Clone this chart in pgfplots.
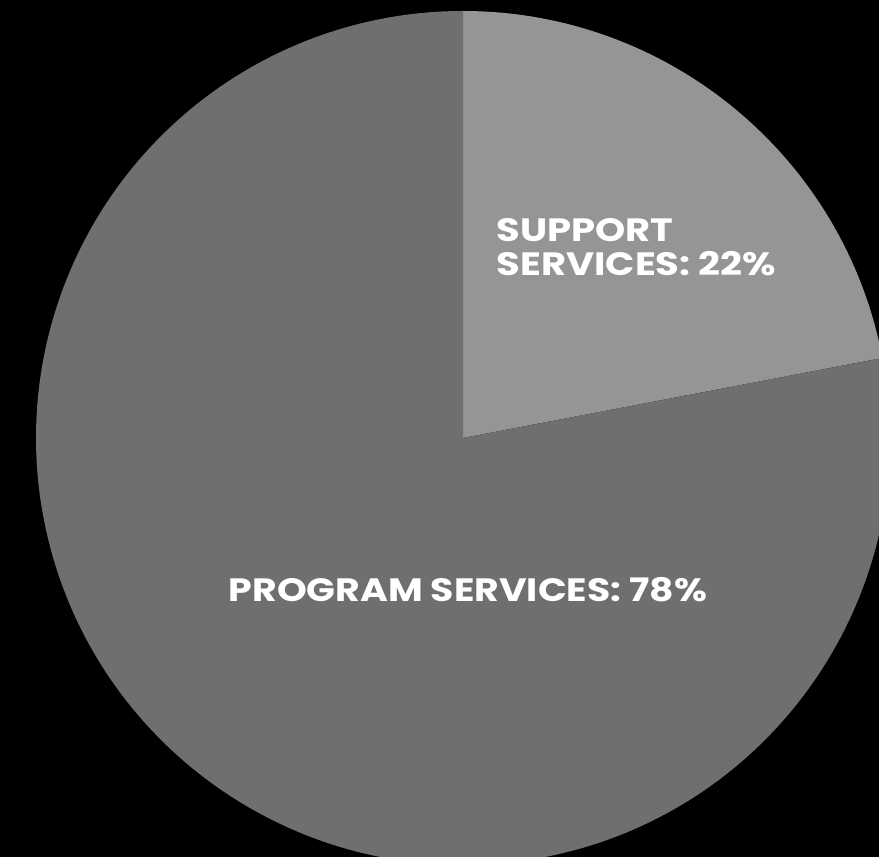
\documentclass[border=0pt]{standalone}
\usepackage{pgfplots}
\usepackage{pgfplotstable}
\pgfplotsset{compat=1.18}
\usepackage{fontspec}
\setmainfont{Poppins}
\definecolor{supp}{HTML}{959595}
\definecolor{prog}{HTML}{6F6F6F}
\pgfplotstableread{
label value
Support 22
Program 78
}\piedata
\begin{document}
\begin{tikzpicture}
\pgfplotstablegetelem{0}{value}\of\piedata \let\vS\pgfplotsretval
\pgfmathsetmacro\aS{90-3.6*\vS}
\begin{axis}[scale only axis, width=8.79cm, height=8.57cm,
  xmin=0, xmax=879, ymin=0, ymax=857, hide axis, clip=true]
\fill[black] (axis cs:0,0) rectangle (axis cs:879,857);
\fill[supp] (axis cs:463,419) -- ++(90:4.27cm) arc[start angle=90, end angle=\aS, radius=4.27cm] -- cycle;
\fill[prog] (axis cs:463,419) -- ++(\aS:4.27cm) arc[start angle=\aS, end angle=-270, radius=4.27cm] -- cycle;
\node[anchor=north west, inner sep=0pt, align=left, text=white, xscale=1.19,
  font=\fontsize{9.2}{9.6}\selectfont\bfseries]
  at (axis cs:496,639) {SUPPORT\\SERVICES: 22\%};
\node[anchor=north, inner sep=0pt, text=white, xscale=1.17,
  font=\fontsize{9.2}{9.6}\selectfont\bfseries]
  at (axis cs:468,280) {PROGRAM SERVICES: 78\%};
\end{axis}
\end{tikzpicture}
\end{document}
